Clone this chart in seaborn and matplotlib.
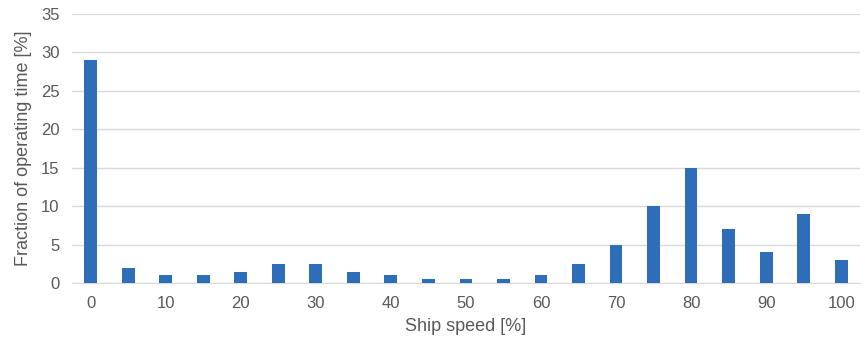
import matplotlib
matplotlib.use('Agg')
import matplotlib.pyplot as plt
import seaborn as sns
import pandas as pd

speeds = [0, 5, 10, 15, 20, 25, 30, 35, 40, 45, 50,
          55, 60, 65, 70, 75, 80, 85, 90, 95, 100]
fractions = [29, 2, 1, 1, 1.5, 2.5, 2.5, 1.5, 1, 0.5, 0.5,
             0.5, 1, 2.5, 5, 10, 15, 7, 4, 9, 3]
y_ticks = [0, 5, 10, 15, 20, 25, 30, 35]

df = pd.DataFrame({'speed': [str(s) for s in speeds], 'fraction': fractions})

sns.set_style('white')
plt.rcParams['font.family'] = ['Liberation Sans', 'DejaVu Sans']

fig = plt.figure(figsize=(8.66, 3.47), dpi=100)
ax = fig.add_axes([0.083, 0.184, 0.910, 0.776])

sns.barplot(data=df, x='speed', y='fraction', color='#2E6EB8',
            saturation=1, width=0.34, linewidth=0, ax=ax, zorder=3)

ax.set_ylim(0, 35)
ax.set_yticks(y_ticks)
ax.set_xlim(-0.5, len(speeds) - 0.5)
ax.set_xticks(range(0, len(speeds), 2))
ax.set_xticklabels([str(s) for s in speeds[::2]])

ax.grid(axis='y', color='#D9D9D9', linewidth=1, zorder=0)
for side in ['top', 'right', 'left']:
    ax.spines[side].set_visible(False)
ax.spines['bottom'].set_color('#D9D9D9')
ax.tick_params(length=0, labelsize=12, colors='#595959', pad=9)

ax.set_xlabel('Ship speed [%]', fontsize=13, color='#595959', labelpad=5)
ax.set_ylabel('Fraction of operating time [%]', fontsize=13, color='#595959', labelpad=6)

fig.savefig('out.png', dpi=100)
